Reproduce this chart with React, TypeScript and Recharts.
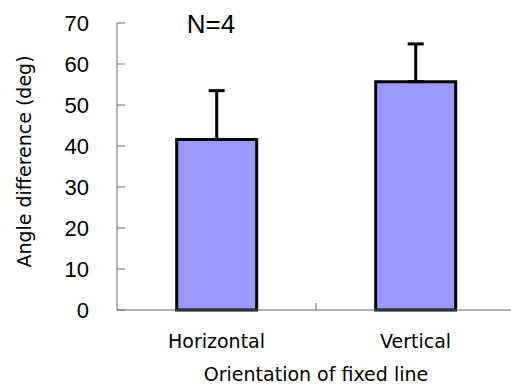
import { BarChart, Bar, XAxis, YAxis, ErrorBar, Label } from 'recharts'

const categories = ['Horizontal', 'Vertical']
const means = [41.6, 55.7]
const errors = [11.9, 9.2]
const yTicks = [0, 10, 20, 30, 40, 50, 60, 70]

const data = categories.map((name, i) => ({
  name,
  value: means[i],
  err: [0, errors[i]]
}))

const AXIS = '#666666'
const LABEL_FONT = '"DejaVu Sans", sans-serif'
const TICK_FONT = '"Liberation Sans", Arial, sans-serif'
const Y_MARGIN = 28

// y ticks point inward (to the right of the axis line)
const YTick = ({ x, y, payload }: any) => {
  const ax = x + Y_MARGIN
  return (
    <g>
      <line x1={ax} x2={ax + 8} y1={y} y2={y} stroke={AXIS} strokeWidth={1} />
      <text
        x={x}
        y={y}
        dy="0.36em"
        textAnchor="end"
        fill="#000"
        fontSize={22}
        fontFamily={TICK_FONT}
      >
        {payload.value}
      </text>
    </g>
  )
}

// category labels, plus the inward separator tick between the bands
const XTick = ({ x, y, payload, index, visibleTicksCount }: any) => {
  const half = payload.offset ?? 99.5
  return (
    <g>
      {index < visibleTicksCount - 1 && (
        <line x1={x + half} x2={x + half} y1={310} y2={303} stroke={AXIS} strokeWidth={1} />
      )}
      <text
        x={x}
        y={y}
        dy={22}
        textAnchor="middle"
        fill="#000"
        fontSize={19}
        fontFamily={LABEL_FONT}
      >
        {payload.value}
      </text>
    </g>
  )
}

export default function App() {
  return (
    <div style={{ position: 'absolute', left: 0, top: 0, width: 511, height: 385, overflow: 'hidden', background: '#fff' }}>
      <BarChart
        width={515}
        height={385}
        data={data}
        margin={{ top: 23, right: 0, left: 0, bottom: 0 }}
        barCategoryGap="30%"
      >
        <XAxis
          dataKey="name"
          height={75}
          axisLine={{ stroke: AXIS }}
          tickLine={false}
          tickSize={0}
          tickMargin={16}
          tick={<XTick />}
          interval={0}
        >
          <Label
            value="Orientation of fixed line"
            position="insideBottom"
            offset={4}
            fill="#000"
            fontSize={19}
            fontFamily={LABEL_FONT}
          />
        </XAxis>
        <YAxis
          width={117}
          domain={[0, 70]}
          ticks={yTicks}
          interval={0}
          axisLine={{ stroke: AXIS }}
          tickLine={false}
          tickSize={0}
          tickMargin={Y_MARGIN}
          tick={<YTick />}
        >
          <Label
            value="Angle difference (deg)"
            angle={-90}
            position="insideLeft"
            offset={24}
            dy={-5}
            fill="#000"
            fontSize={19}
            fontFamily={LABEL_FONT}
            style={{ textAnchor: 'middle' }}
          />
        </YAxis>
        <Bar dataKey="value" fill="#9999FF" stroke="#000" strokeWidth={3} isAnimationActive={false}>
          <ErrorBar dataKey="err" width={8} stroke="#000" strokeWidth={3} direction="y" isAnimationActive={false} />
        </Bar>
        <text x={211} y={33} textAnchor="middle" fontSize={26} fontFamily={TICK_FONT} fill="#000">
          N=4
        </text>
      </BarChart>
    </div>
  )
}
